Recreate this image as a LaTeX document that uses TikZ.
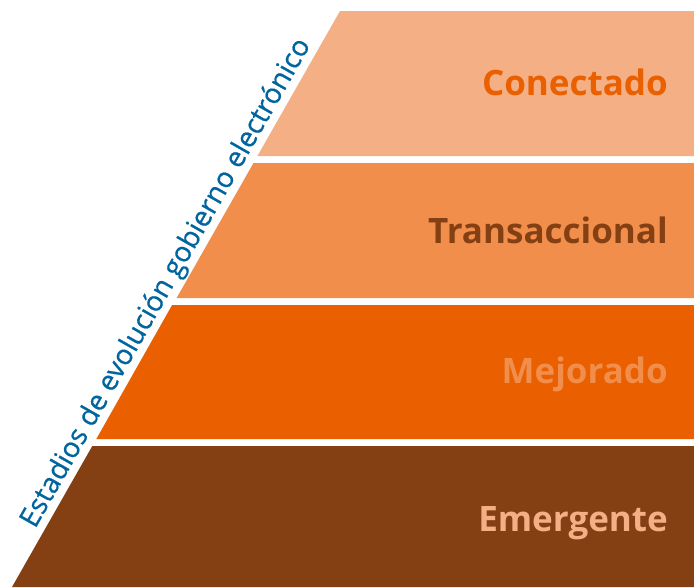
\documentclass[tikz,border=0pt]{standalone}
\usepackage{fontspec}
\setmainfont{Open Sans}
\definecolor{bandA}{HTML}{F4B084}
\definecolor{bandB}{HTML}{F18E4B}
\definecolor{bandC}{HTML}{EA5F00}
\definecolor{bandD}{HTML}{843F13}
\definecolor{txtblue}{HTML}{00659E}
\begin{document}
\begin{tikzpicture}[x=1pt,y=-1pt,
  band/.style={draw=none},
  lbl/.style={anchor=base east,inner sep=0pt,font=\fontsize{35}{40}\selectfont\bfseries},
  side/.style={inner sep=0pt,anchor=base,rotate=60.35,text=txtblue,font=\fontsize{28}{32}\selectfont}]
\useasboundingbox (0,0) rectangle (694,587);
% diagonal: x = 340 - 0.5694*(y-11)
\fill[bandA] (340,11) -- (694,11) -- (694,156) -- (257.4,156) -- cycle;
\fill[bandB] (253.5,163) -- (694,163) -- (694,298) -- (176.6,298) -- cycle;
\fill[bandC] (172.1,305) -- (694,305) -- (694,439) -- (96.3,439) -- cycle;
\fill[bandD] (92.3,446) -- (694,446) -- (694,587) -- (12,587) -- cycle;
\node[lbl,text=bandC] (l1) at (668,95) {Conectado};
\node[lbl,text=bandD] (l2) at (668,243) {Transaccional};
\node[lbl,text=bandB] (l3) at (668,383) {Mejorado};
\node[lbl,text=bandA] (l4) at (668,531) {Emergente};
\node[side,text opacity=1,draw=none] (s) at (173,287) {\addfontfeatures{FakeBold=0.6}Estadios de evolución gobierno electrónico};
\end{tikzpicture}
\end{document}
